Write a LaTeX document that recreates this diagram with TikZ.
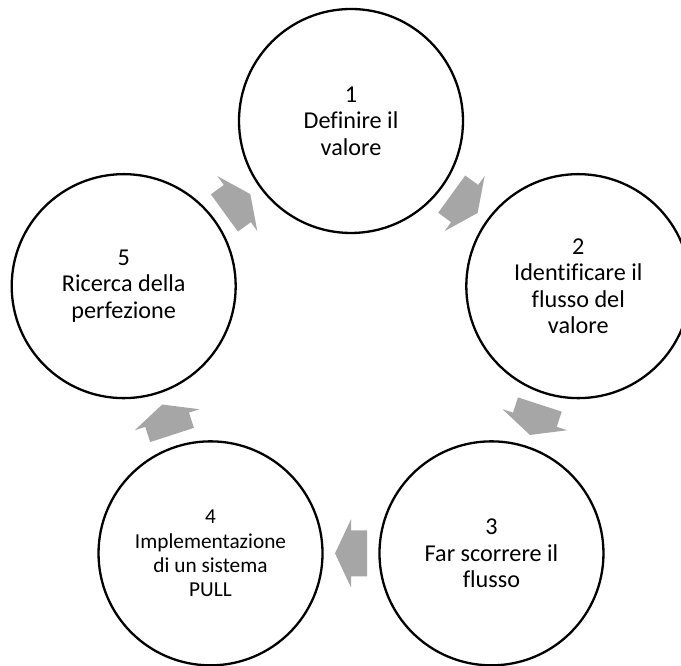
\documentclass[tikz,border=0pt]{standalone}
\usepackage{fontspec}
\setmainfont{Carlito}[Ligatures=NoCommon]
\usetikzlibrary{calc}

\definecolor{arrowgray}{HTML}{A6A6A6}

\tikzset{
  stage/.style={circle, draw=black, line width=2.3pt, minimum size=224pt,
    inner sep=0pt, align=center, text=black,
    font=\fontsize{24.2}{26.4}\selectfont},
  smallstage/.style={stage, font=\fontsize{21.3}{24.2}\selectfont},
  % block arrow pointing along +x, centred on its anchor
  cyclearrow/.pic={
    \fill[arrowgray] (-16,-23) -- (0,-23) -- (0,-34) -- (16,0)
      -- (0,34) -- (0,23) -- (-16,23) -- cycle;
  }
}

\begin{document}
\begin{tikzpicture}[x=1pt,y=1pt]
  \useasboundingbox (0,0) rectangle (681,666);
  \fill[white] (0,0) rectangle (681,666);

  % five stages on a regular pentagon
  \coordinate (ctr) at (351,306);
  \node[stage]      (s1) at ($(ctr)+(90:239)$)   {1\\Definire il\\valore};
  \node[stage]      (s2) at ($(ctr)+(18:239)$)   {2\\Identificare il\\flusso del\\valore};
  \node[stage]      (s3) at ($(ctr)+(-54:239)$)  {3\\Far scorrere il\\flusso};
  \node[smallstage] (s4) at ($(ctr)+(-126:239)$) {4\\Implementazione\\di un sistema\\PULL};
  \node[stage]      (s5) at ($(ctr)+(162:239)$)  {5\\Ricerca della\\perfezione};

  % clockwise arrows between neighbouring stages
  \pic[rotate=-36]  at ($(s1)!0.5!(s2)$) {cyclearrow};
  \pic[rotate=-108] at ($(s2)!0.5!(s3)$) {cyclearrow};
  \pic[rotate=180]  at ($(s3)!0.5!(s4)$) {cyclearrow};
  \pic[rotate=108]  at ($(s4)!0.5!(s5)$) {cyclearrow};
  \pic[rotate=36]   at ($(s5)!0.5!(s1)$) {cyclearrow};
\end{tikzpicture}
\end{document}
